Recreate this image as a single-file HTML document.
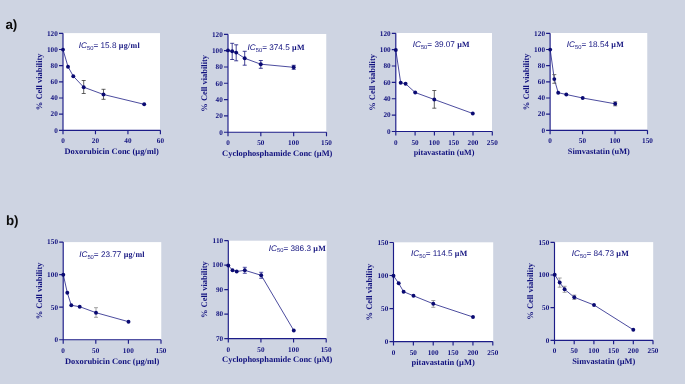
<!DOCTYPE html>
<html lang="en">
<head>
<meta charset="utf-8">
<title>Cell viability IC50 curves</title>
<style>
html,body{margin:0;padding:0;background:#ced4e2;}
body{width:685px;height:384px;overflow:hidden;}
svg{display:block;text-rendering:geometricPrecision;}
.tk text{font-family:"Liberation Serif",serif;font-weight:bold;font-size:7.2px;fill:#10107e;letter-spacing:0.1px;}
.tt{font-family:"Liberation Serif",serif;font-weight:bold;font-size:8.45px;fill:#10107e;}
.ic{font-family:"Liberation Sans",sans-serif;font-size:8.2px;fill:#10107e;}
.un{font-family:"Liberation Serif",serif;font-weight:bold;font-size:8px;letter-spacing:0.3px;}
.pl{font-family:"Liberation Sans",sans-serif;font-weight:bold;font-size:13.4px;fill:#0c0c0c;}
</style>
</head>
<body>
<svg width="685" height="384" viewBox="0 0 685 384">
<rect width="685" height="384" fill="#ced4e2"/>
<text class="pl" x="5.4" y="28.7">a)</text>
<text class="pl" x="5.9" y="224.7">b)</text>
<g>
<rect x="63.00" y="33.10" width="97.00" height="97.20" fill="#fff"/>
<path d="M63.00 33.30V134.30M59.00 130.30H160.40M59.00 114.13H63.00M59.00 97.97H63.00M59.00 81.80H63.00M59.00 65.63H63.00M59.00 49.47H63.00M59.00 33.30H63.00M95.47 130.30V134.30M127.93 130.30V134.30M160.40 130.30V134.30" fill="none" stroke="#1c1c88" stroke-width="1.15"/>
<g class="tk" text-anchor="end">
<text x="58.00" y="132.65">0</text>
<text x="58.00" y="116.48">20</text>
<text x="58.00" y="100.32">40</text>
<text x="58.00" y="84.15">60</text>
<text x="58.00" y="67.98">80</text>
<text x="58.00" y="51.82">100</text>
<text x="58.00" y="35.65">120</text>
</g>
<g class="tk" text-anchor="middle">
<text x="63.00" y="143.40">0</text>
<text x="95.47" y="143.40">20</text>
<text x="127.93" y="143.40">40</text>
<text x="160.40" y="143.40">60</text>
</g>
<text class="tt" text-anchor="middle" style="font-size:8.45px" x="111.70" y="154.10">Doxorubicin Conc (µg/ml)</text>
<text class="tt" text-anchor="middle" transform="translate(41.80 81.80) rotate(-90)">% Cell viability</text>
<text class="ic" x="78.80" y="48.30"><tspan font-style="italic">IC</tspan><tspan font-size="5.8" dy="1.9">50</tspan><tspan dy="-1.9">= 15.8 </tspan><tspan class="un">µg/ml</tspan></text>
<polyline points="63.0,49.6 68.0,66.7 73.3,76.2 83.7,87.2 103.5,94.5 144.2,104.3" fill="none" stroke="#10107e" stroke-width="0.75"/>
<path d="M83.7 80.5V93.5M81.7 80.5h4M81.7 93.5h4M103.5 89.3V99.3M101.5 89.3h4M101.5 99.3h4" fill="none" stroke="#3a3a3a" stroke-width="0.8"/>
<circle cx="63.0" cy="49.6" r="1.95" fill="#0a0a72"/>
<circle cx="68.0" cy="66.7" r="1.95" fill="#0a0a72"/>
<circle cx="73.3" cy="76.2" r="1.95" fill="#0a0a72"/>
<circle cx="83.7" cy="87.2" r="1.95" fill="#0a0a72"/>
<circle cx="103.5" cy="94.5" r="1.95" fill="#0a0a72"/>
<circle cx="144.2" cy="104.3" r="1.95" fill="#0a0a72"/>
</g>
<g>
<rect x="228.00" y="34.00" width="98.25" height="98.25" fill="#fff"/>
<path d="M228.00 34.30V136.25M224.00 132.25H326.50M224.00 115.92H228.00M224.00 99.60H228.00M224.00 83.28H228.00M224.00 66.95H228.00M224.00 50.62H228.00M224.00 34.30H228.00M260.83 132.25V136.25M293.67 132.25V136.25M326.50 132.25V136.25" fill="none" stroke="#1c1c88" stroke-width="1.15"/>
<g class="tk" text-anchor="end">
<text x="223.00" y="134.60">0</text>
<text x="223.00" y="118.27">20</text>
<text x="223.00" y="101.95">40</text>
<text x="223.00" y="85.62">60</text>
<text x="223.00" y="69.30">80</text>
<text x="223.00" y="52.98">100</text>
<text x="223.00" y="36.65">120</text>
</g>
<g class="tk" text-anchor="middle">
<text x="228.00" y="145.35">0</text>
<text x="260.83" y="145.35">50</text>
<text x="293.67" y="145.35">100</text>
<text x="326.50" y="145.35">150</text>
</g>
<text class="tt" text-anchor="middle" style="font-size:8.45px" x="277.25" y="156.05">Cyclophosphamide Conc (µM)</text>
<text class="tt" text-anchor="middle" transform="translate(206.80 83.28) rotate(-90)">% Cell viability</text>
<text class="ic" x="247.50" y="49.70"><tspan font-style="italic">IC</tspan><tspan font-size="5.8" dy="1.9">50</tspan><tspan dy="-1.9">= 374.5 </tspan><tspan class="un">µM</tspan></text>
<polyline points="228.0,50.4 232.2,51.2 236.2,52.6 244.7,58.3 260.8,64.2 293.7,67.3" fill="none" stroke="#10107e" stroke-width="0.75"/>
<path d="M232.2 43.3V59.5M230.2 43.3h4M230.2 59.5h4M236.2 44.8V60.8M234.2 44.8h4M234.2 60.8h4M244.7 51.3V65.2M242.7 51.3h4M242.7 65.2h4M260.8 60.5V68.3M258.8 60.5h4M258.8 68.3h4M293.7 65.3V69.3M291.7 65.3h4M291.7 69.3h4" fill="none" stroke="#14147c" stroke-width="0.8"/>
<circle cx="228.0" cy="50.4" r="1.95" fill="#0a0a72"/>
<circle cx="232.2" cy="51.2" r="1.95" fill="#0a0a72"/>
<circle cx="236.2" cy="52.6" r="1.95" fill="#0a0a72"/>
<circle cx="244.7" cy="58.3" r="1.95" fill="#0a0a72"/>
<circle cx="260.8" cy="64.2" r="1.95" fill="#0a0a72"/>
<circle cx="293.7" cy="67.3" r="1.95" fill="#0a0a72"/>
</g>
<g>
<rect x="395.80" y="33.00" width="96.20" height="98.50" fill="#fff"/>
<path d="M395.80 33.30V135.50M391.80 131.50H492.30M391.80 115.13H395.80M391.80 98.77H395.80M391.80 82.40H395.80M391.80 66.03H395.80M391.80 49.67H395.80M391.80 33.30H395.80M415.10 131.50V135.50M434.40 131.50V135.50M453.70 131.50V135.50M473.00 131.50V135.50M492.30 131.50V135.50" fill="none" stroke="#1c1c88" stroke-width="1.15"/>
<g class="tk" text-anchor="end">
<text x="390.80" y="133.85">0</text>
<text x="390.80" y="117.48">20</text>
<text x="390.80" y="101.12">40</text>
<text x="390.80" y="84.75">60</text>
<text x="390.80" y="68.38">80</text>
<text x="390.80" y="52.02">100</text>
<text x="390.80" y="35.65">120</text>
</g>
<g class="tk" text-anchor="middle">
<text x="395.80" y="144.60">0</text>
<text x="415.10" y="144.60">50</text>
<text x="434.40" y="144.60">100</text>
<text x="453.70" y="144.60">150</text>
<text x="473.00" y="144.60">200</text>
<text x="492.30" y="144.60">250</text>
</g>
<text class="tt" text-anchor="middle" style="font-size:8.15px" x="444.05" y="155.30">pitavastatin (uM)</text>
<text class="tt" text-anchor="middle" transform="translate(374.60 82.40) rotate(-90)">% Cell viability</text>
<text class="ic" x="412.70" y="47.20"><tspan font-style="italic">IC</tspan><tspan font-size="5.8" dy="1.9">50</tspan><tspan dy="-1.9">= 39.07 </tspan><tspan class="un">µM</tspan></text>
<polyline points="395.8,50.0 400.7,82.7 405.6,83.8 415.2,92.5 434.3,99.5 472.8,113.5" fill="none" stroke="#10107e" stroke-width="0.75"/>
<path d="M434.3 90.5V108.2M432.3 90.5h4M432.3 108.2h4" fill="none" stroke="#3a3a3a" stroke-width="0.8"/>
<circle cx="395.8" cy="50.0" r="1.95" fill="#0a0a72"/>
<circle cx="400.7" cy="82.7" r="1.95" fill="#0a0a72"/>
<circle cx="405.6" cy="83.8" r="1.95" fill="#0a0a72"/>
<circle cx="415.2" cy="92.5" r="1.95" fill="#0a0a72"/>
<circle cx="434.3" cy="99.5" r="1.95" fill="#0a0a72"/>
<circle cx="472.8" cy="113.5" r="1.95" fill="#0a0a72"/>
</g>
<g>
<rect x="550.10" y="33.00" width="97.15" height="97.30" fill="#fff"/>
<path d="M550.10 33.30V134.30M546.10 130.30H647.50M546.10 114.13H550.10M546.10 97.97H550.10M546.10 81.80H550.10M546.10 65.63H550.10M546.10 49.47H550.10M546.10 33.30H550.10M582.57 130.30V134.30M615.03 130.30V134.30M647.50 130.30V134.30" fill="none" stroke="#1c1c88" stroke-width="1.15"/>
<g class="tk" text-anchor="end">
<text x="545.10" y="132.65">0</text>
<text x="545.10" y="116.48">20</text>
<text x="545.10" y="100.32">40</text>
<text x="545.10" y="84.15">60</text>
<text x="545.10" y="67.98">80</text>
<text x="545.10" y="51.82">100</text>
<text x="545.10" y="35.65">120</text>
</g>
<g class="tk" text-anchor="middle">
<text x="550.10" y="143.40">0</text>
<text x="582.57" y="143.40">50</text>
<text x="615.03" y="143.40">100</text>
<text x="647.50" y="143.40">150</text>
</g>
<text class="tt" text-anchor="middle" style="font-size:8.3px" x="598.80" y="154.10">Simvastatin (uM)</text>
<text class="tt" text-anchor="middle" transform="translate(528.90 81.80) rotate(-90)">% Cell viability</text>
<text class="ic" x="566.80" y="47.20"><tspan font-style="italic">IC</tspan><tspan font-size="5.8" dy="1.9">50</tspan><tspan dy="-1.9">= 18.54 </tspan><tspan class="un">µM</tspan></text>
<polyline points="550.2,49.6 554.3,79.1 558.2,92.7 566.3,94.5 582.7,98.0 615.2,103.8" fill="none" stroke="#10107e" stroke-width="0.75"/>
<path d="M554.3 74.6V83.3M552.3 74.6h4M552.3 83.3h4M615.2 101.8V105.8M613.2 101.8h4M613.2 105.8h4" fill="none" stroke="#555" stroke-width="0.8"/>
<circle cx="550.2" cy="49.6" r="1.95" fill="#0a0a72"/>
<circle cx="554.3" cy="79.1" r="1.95" fill="#0a0a72"/>
<circle cx="558.2" cy="92.7" r="1.95" fill="#0a0a72"/>
<circle cx="566.3" cy="94.5" r="1.95" fill="#0a0a72"/>
<circle cx="582.7" cy="98.0" r="1.95" fill="#0a0a72"/>
<circle cx="615.2" cy="103.8" r="1.95" fill="#0a0a72"/>
</g>
<g>
<rect x="63.20" y="242.10" width="98.05" height="97.60" fill="#fff"/>
<path d="M63.20 242.10V343.70M59.20 339.70H161.00M59.20 307.17H63.20M59.20 274.63H63.20M59.20 242.10H63.20M95.80 339.70V343.70M128.40 339.70V343.70M161.00 339.70V343.70" fill="none" stroke="#1c1c88" stroke-width="1.15"/>
<g class="tk" text-anchor="end">
<text x="58.20" y="342.05">0</text>
<text x="58.20" y="309.52">50</text>
<text x="58.20" y="276.98">100</text>
<text x="58.20" y="244.45">150</text>
</g>
<g class="tk" text-anchor="middle">
<text x="63.20" y="352.80">0</text>
<text x="95.80" y="352.80">50</text>
<text x="128.40" y="352.80">100</text>
<text x="161.00" y="352.80">150</text>
</g>
<text class="tt" text-anchor="middle" style="font-size:8.45px" x="112.10" y="363.50">Doxorubicin Conc (µg/ml)</text>
<text class="tt" text-anchor="middle" transform="translate(42.00 290.90) rotate(-90)">% Cell viability</text>
<text class="ic" x="79.20" y="257.20"><tspan font-style="italic">IC</tspan><tspan font-size="5.8" dy="1.9">50</tspan><tspan dy="-1.9">= 23.77 </tspan><tspan class="un">µg/ml</tspan></text>
<polyline points="63.3,274.7 67.3,292.8 71.3,305.3 79.7,306.7 96.0,312.7 128.5,321.7" fill="none" stroke="#10107e" stroke-width="0.75"/>
<path d="M96.0 307.7V317.3M94.0 307.7h4M94.0 317.3h4" fill="none" stroke="#8a8a8a" stroke-width="0.8"/>
<circle cx="63.3" cy="274.7" r="1.95" fill="#0a0a72"/>
<circle cx="67.3" cy="292.8" r="1.95" fill="#0a0a72"/>
<circle cx="71.3" cy="305.3" r="1.95" fill="#0a0a72"/>
<circle cx="79.7" cy="306.7" r="1.95" fill="#0a0a72"/>
<circle cx="96.0" cy="312.7" r="1.95" fill="#0a0a72"/>
<circle cx="128.5" cy="321.7" r="1.95" fill="#0a0a72"/>
</g>
<g>
<rect x="228.30" y="240.70" width="98.40" height="97.90" fill="#fff"/>
<path d="M228.30 240.60V342.60M224.30 338.60H326.20M224.30 314.10H228.30M224.30 289.60H228.30M224.30 265.10H228.30M224.30 240.60H228.30M260.93 338.60V342.60M293.57 338.60V342.60M326.20 338.60V342.60" fill="none" stroke="#1c1c88" stroke-width="1.15"/>
<g class="tk" text-anchor="end">
<text x="223.30" y="340.95">70</text>
<text x="223.30" y="316.45">80</text>
<text x="223.30" y="291.95">90</text>
<text x="223.30" y="267.45">100</text>
<text x="223.30" y="242.95">110</text>
</g>
<g class="tk" text-anchor="middle">
<text x="228.30" y="351.70">0</text>
<text x="260.93" y="351.70">50</text>
<text x="293.57" y="351.70">100</text>
<text x="326.20" y="351.70">150</text>
</g>
<text class="tt" text-anchor="middle" style="font-size:8.45px" x="277.25" y="362.40">Cyclophosphamide Conc (µM)</text>
<text class="tt" text-anchor="middle" transform="translate(207.10 289.60) rotate(-90)">% Cell viability</text>
<text class="ic" x="268.80" y="250.50"><tspan font-style="italic">IC</tspan><tspan font-size="5.8" dy="1.9">50</tspan><tspan dy="-1.9">= 386.3 </tspan><tspan class="un">µM</tspan></text>
<polyline points="228.3,265.5 232.5,270.2 236.7,271.5 244.8,270.3 261.2,275.3 293.8,330.5" fill="none" stroke="#10107e" stroke-width="0.75"/>
<path d="M244.8 267.3V273.3M242.8 267.3h4M242.8 273.3h4M261.2 272.3V278.3M259.2 272.3h4M259.2 278.3h4" fill="none" stroke="#2a2a90" stroke-width="0.8"/>
<circle cx="228.3" cy="265.5" r="1.95" fill="#0a0a72"/>
<circle cx="232.5" cy="270.2" r="1.95" fill="#0a0a72"/>
<circle cx="236.7" cy="271.5" r="1.95" fill="#0a0a72"/>
<circle cx="244.8" cy="270.3" r="1.95" fill="#0a0a72"/>
<circle cx="261.2" cy="275.3" r="1.95" fill="#0a0a72"/>
<circle cx="293.8" cy="330.5" r="1.95" fill="#0a0a72"/>
</g>
<g>
<rect x="393.50" y="242.30" width="99.70" height="99.30" fill="#fff"/>
<path d="M393.50 242.50V345.60M389.50 341.60H492.80M389.50 308.57H393.50M389.50 275.53H393.50M389.50 242.50H393.50M413.36 341.60V345.60M433.22 341.60V345.60M453.08 341.60V345.60M472.94 341.60V345.60M492.80 341.60V345.60" fill="none" stroke="#1c1c88" stroke-width="1.15"/>
<g class="tk" text-anchor="end">
<text x="388.50" y="343.95">0</text>
<text x="388.50" y="310.92">50</text>
<text x="388.50" y="277.88">100</text>
<text x="388.50" y="244.85">150</text>
</g>
<g class="tk" text-anchor="middle">
<text x="393.50" y="354.70">0</text>
<text x="413.36" y="354.70">50</text>
<text x="433.22" y="354.70">100</text>
<text x="453.08" y="354.70">150</text>
<text x="472.94" y="354.70">200</text>
<text x="492.80" y="354.70">250</text>
</g>
<text class="tt" text-anchor="middle" style="font-size:8.45px" x="443.15" y="365.40">pitavastatin (µM)</text>
<text class="tt" text-anchor="middle" transform="translate(372.30 292.05) rotate(-90)">% Cell viability</text>
<text class="ic" x="411.00" y="256.30"><tspan font-style="italic">IC</tspan><tspan font-size="5.8" dy="1.9">50</tspan><tspan dy="-1.9">= 114.5 </tspan><tspan class="un">µM</tspan></text>
<polyline points="393.5,275.8 398.7,283.3 403.6,291.7 413.5,295.8 433.3,303.8 473.0,317.0" fill="none" stroke="#10107e" stroke-width="0.75"/>
<path d="M433.3 300.5V307.3M431.3 300.5h4M431.3 307.3h4" fill="none" stroke="#8a8a8a" stroke-width="0.8"/>
<circle cx="393.5" cy="275.8" r="1.95" fill="#0a0a72"/>
<circle cx="398.7" cy="283.3" r="1.95" fill="#0a0a72"/>
<circle cx="403.6" cy="291.7" r="1.95" fill="#0a0a72"/>
<circle cx="413.5" cy="295.8" r="1.95" fill="#0a0a72"/>
<circle cx="433.3" cy="303.8" r="1.95" fill="#0a0a72"/>
<circle cx="473.0" cy="317.0" r="1.95" fill="#0a0a72"/>
</g>
<g>
<rect x="554.50" y="242.10" width="98.70" height="98.20" fill="#fff"/>
<path d="M554.50 242.30V344.30M550.50 340.30H653.00M550.50 307.63H554.50M550.50 274.97H554.50M550.50 242.30H554.50M574.20 340.30V344.30M593.90 340.30V344.30M613.60 340.30V344.30M633.30 340.30V344.30M653.00 340.30V344.30" fill="none" stroke="#1c1c88" stroke-width="1.15"/>
<g class="tk" text-anchor="end">
<text x="549.50" y="342.65">0</text>
<text x="549.50" y="309.98">50</text>
<text x="549.50" y="277.32">100</text>
<text x="549.50" y="244.65">150</text>
</g>
<g class="tk" text-anchor="middle">
<text x="554.50" y="353.40">0</text>
<text x="574.20" y="353.40">50</text>
<text x="593.90" y="353.40">100</text>
<text x="613.60" y="353.40">150</text>
<text x="633.30" y="353.40">200</text>
<text x="653.00" y="353.40">250</text>
</g>
<text class="tt" text-anchor="middle" style="font-size:8.45px" x="603.75" y="364.10">Simvastatin (µM)</text>
<text class="tt" text-anchor="middle" transform="translate(533.30 291.30) rotate(-90)">% Cell viability</text>
<text class="ic" x="571.80" y="256.00"><tspan font-style="italic">IC</tspan><tspan font-size="5.8" dy="1.9">50</tspan><tspan dy="-1.9">= 84.73 </tspan><tspan class="un">µM</tspan></text>
<polyline points="554.7,274.7 559.7,282.5 564.6,289.3 574.3,297.3 594.0,305.0 633.3,329.8" fill="none" stroke="#10107e" stroke-width="0.75"/>
<path d="M559.7 278.0V287.2M557.7 278.0h4M557.7 287.2h4M564.6 286.3V292.3M562.6 286.3h4M562.6 292.3h4M574.3 295.1V299.5M572.3 295.1h4M572.3 299.5h4" fill="none" stroke="#8a8a8a" stroke-width="0.8"/>
<circle cx="554.7" cy="274.7" r="1.95" fill="#0a0a72"/>
<circle cx="559.7" cy="282.5" r="1.95" fill="#0a0a72"/>
<circle cx="564.6" cy="289.3" r="1.95" fill="#0a0a72"/>
<circle cx="574.3" cy="297.3" r="1.95" fill="#0a0a72"/>
<circle cx="594.0" cy="305.0" r="1.95" fill="#0a0a72"/>
<circle cx="633.3" cy="329.8" r="1.95" fill="#0a0a72"/>
</g>
</svg>
</body>
</html>
